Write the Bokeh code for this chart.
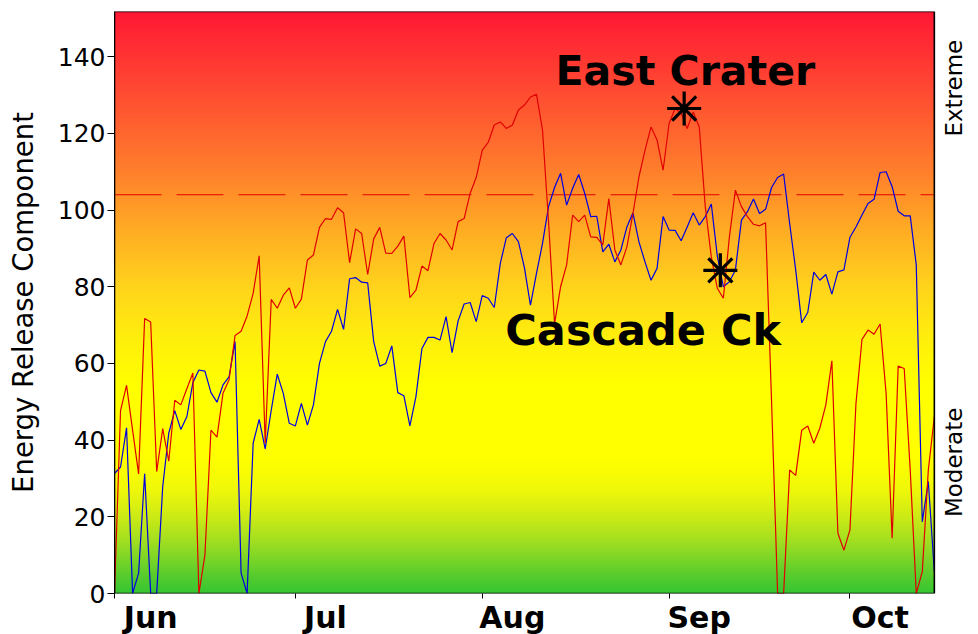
import math
import numpy as np
from bokeh.plotting import figure
from bokeh.models import Range1d, FixedTicker
from bokeh.core.properties import value
from bokeh.embed import file_html
from bokeh.resources import INLINE

# ---- data (daily ERC values, day 0 = June 1) ----
east_crater = [0, 47.7, 54.3, 42.6, 31.2, 71.7, 70.8, 31.8, 43, 34.5,
               50.4, 49.2, 53.4, 57.5, 0, 10, 42.6, 40.8, 52.2, 55.7,
               67.3, 68.4, 72.4, 78.3, 88.1, 39.2, 76.7, 74.4, 77.8, 79.7,
               74.4, 76.8, 87, 88.3, 95.5, 97.8, 97.6, 100.6, 99.3, 86.3,
               95.1, 93.9, 83.2, 92.5, 95.5, 88.8, 88.7, 90.6, 93.2, 77.2,
               79.1, 85.4, 84.2, 91.3, 93.9, 92.2, 89.6, 97, 97.8, 104.4,
               108.5, 115.6, 117.7, 122.2, 123, 121.3, 122.2, 126.1, 127.4, 129.5,
               130.2, 120.9, 97, 70.4, 80, 85.7, 98.7, 97, 98.7, 93,
               92.9, 90.9, 103, 89.6, 85.7, 90.4, 99.1, 108.7, 115.6, 121.7,
               118.3, 110.4, 122.6, 126.5, 125.2, 121.3, 125.6, 121.7, 100.9, 87.8,
               79.6, 77, 93, 105.2, 100.9, 98.3, 96.3, 95.9, 96.7, 50,
               0, 0, 32.2, 30.8, 42.6, 43.7, 39.2, 43.1, 49.2, 60.7,
               15.7, 11.3, 16.6, 49.6, 66.3, 68.7, 67.6, 70.3, 52.2, 14.4,
               59.3, 58.7, 32.2, 0, 5.7, 32.2, 46.1]

cascade_ck = [31.3, 33, 43.2, 0, 5.3, 31.2, 0, 0, 27.9, 41.8,
              47.7, 42.8, 46.1, 55, 58.3, 58, 52.4, 49.9, 54.4, 56.5,
              65.7, 5.3, 0, 39.2, 45.4, 37.7, 47.8, 57.2, 52.2, 44.4,
              43.7, 49.6, 43.9, 49.2, 60, 65.7, 68.4, 74.1, 68.9, 82.1,
              82.4, 81.2, 81, 65.7, 59.3, 60, 64.6, 52.4, 51.6, 43.7,
              51.3, 63.9, 66.8, 66.8, 66.1, 72.2, 62.8, 71.1, 75.5, 75.9,
              70.9, 77.7, 77, 74.6, 86.1, 92.8, 93.9, 91.8, 85, 75.2,
              83.5, 91.3, 100.9, 105.9, 109.6, 101.3, 105.7, 109.3, 104.4, 98.3,
              98.4, 89.1, 91.1, 86.5, 89.6, 95.6, 99.3, 91.7, 86.5, 81.7,
              84.8, 98.3, 94.8, 94.7, 92, 95.6, 99.3, 96.1, 98.3, 101.6,
              88, 80, 81.3, 84.4, 97.4, 99.6, 102.9, 99.1, 100.2, 105.9,
              108.5, 109.4, 96.5, 84.4, 70.6, 73.3, 83.8, 81.7, 83.2, 78.1,
              83.9, 84.4, 92.9, 95.6, 98.7, 101.7, 102.8, 109.8, 110, 106.1,
              99.7, 98.5, 98.5, 85.7, 18.7, 29.2, 5.7]

days = list(range(len(east_crater)))

month_names = ["Jun", "Jul", "Aug", "Sep", "Oct"]
month_starts = [0, 30, 61, 92, 122]
month_label_days = [6, 35, 66, 97, 127]
y_ticks = [0, 20, 40, 60, 80, 100, 120, 140]
threshold = 104
zone_names = ["Extreme", "Moderate"]
zone_levels = [131.8, 34.2]
station_names = ["East Crater", "Cascade Ck"]
station_label_x = [94.7, 87.7]
station_label_y = [136.4, 68.8]
marker_x = [94.5, 100.5]
marker_y = [126.5, 84.3]

X_MAX = days[-1]          # last day of data = right edge of the chart area
X_PANEL = 141.5           # extra room on the right for the zone names
ZONE_X = 139.2
Y_MAX = 151.8

# ---- figure ----
p = figure(frame_width=853, frame_height=582, output_backend="svg",
           toolbar_location=None, x_range=Range1d(0, X_PANEL),
           y_range=Range1d(0, Y_MAX), min_border_left=114, min_border_top=11,
           min_border_bottom=0, min_border_right=0)
p.outline_line_color = None
p.xgrid.grid_line_color = None
p.ygrid.grid_line_color = None
p.background_fill_color = "white"
p.border_fill_color = "white"

# background gradient
stops_v = [0, 5, 12, 20, 27, 35, 55, 66, 80, 95, 110, 130, Y_MAX]
stops_rgb = [(55, 198, 50), (90, 205, 45), (150, 220, 35), (205, 235, 22),
             (240, 248, 10), (255, 255, 0), (255, 255, 0), (255, 240, 12),
             (255, 212, 28), (255, 172, 36), (255, 128, 44), (255, 78, 50),
             (255, 24, 52)]
N = 600
vs = np.linspace(0, Y_MAX, N)
img = np.empty((N, 1), dtype=np.uint32)
view = img.view(dtype=np.uint8).reshape((N, 1, 4))
for k in range(3):
    view[:, 0, k] = np.interp(vs, stops_v, [c[k] for c in stops_rgb]).astype(np.uint8)
view[:, 0, 3] = 255
p.image_rgba(image=[img], x=0, y=0, dw=X_MAX, dh=Y_MAX)

# threshold line (only across the chart area)
p.segment(x0=[0], y0=[threshold], x1=[X_MAX], y1=[threshold],
          line_color="#E00000", line_dash="47 15", line_width=1)

p.line(days, cascade_ck, line_color="#0000E0", line_width=1.2)
p.line(days, east_crater, line_color="#E00000", line_width=1.2)

# chart box outline
p.quad(left=[0], right=[X_MAX], bottom=[0], top=[Y_MAX], fill_color=None,
       line_color="black", line_width=1.6)

p.scatter(marker_x, marker_y, marker="asterisk", size=34, angle=math.pi / 2,
          line_color="black", line_width=3.2)

p.text(x=station_label_x[:1], y=station_label_y[:1], text=station_names[:1],
       text_font=value("DejaVu Sans"), text_font_style="bold",
       text_font_size="41px", text_align="center", text_baseline="middle",
       text_color="black")
p.text(x=station_label_x[1:], y=station_label_y[1:], text=station_names[1:],
       text_font=value("DejaVu Sans"), text_font_style="bold",
       text_font_size="43px", text_align="center", text_baseline="middle",
       text_color="black")

p.text(x=[ZONE_X] * len(zone_names), y=zone_levels, text=zone_names,
       angle=math.pi / 2, text_font=value("DejaVu Sans"),
       text_font_size="23px", text_align="center", text_baseline="middle",
       text_color="black")

# x axis
xa = p.xaxis[0]
xa.ticker = FixedTicker(ticks=month_label_days, minor_ticks=month_starts)
xa.major_label_overrides = {d: m for d, m in zip(month_label_days, month_names)}
xa.major_tick_line_color = None
xa.major_tick_out = 0
xa.major_tick_in = 0
xa.minor_tick_line_color = "black"
xa.minor_tick_out = 5
xa.minor_tick_in = 0
xa.axis_line_color = None
xa.major_label_text_font = "DejaVu Sans"
xa.major_label_text_font_style = "bold"
xa.major_label_text_font_size = "30px"
xa.major_label_text_color = "black"
xa.major_label_standoff = 1

# left axis
ya = p.yaxis[0]
ya.ticker = FixedTicker(ticks=y_ticks)
ya.axis_line_color = "black"
ya.major_tick_line_color = "black"
ya.major_tick_out = 7
ya.major_tick_in = 0
ya.minor_tick_line_color = None
ya.major_label_text_font = "DejaVu Sans"
ya.major_label_text_font_size = "25px"
ya.major_label_text_color = "black"
ya.major_label_standoff = 2
ya.axis_label = "Energy Release Component"
ya.axis_label_text_font = "DejaVu Sans"
ya.axis_label_text_font_style = "normal"
ya.axis_label_text_font_size = "27.5px"
ya.axis_label_text_color = "black"
ya.axis_label_standoff = 16

open("out.html", "w").write(file_html(p, INLINE))
